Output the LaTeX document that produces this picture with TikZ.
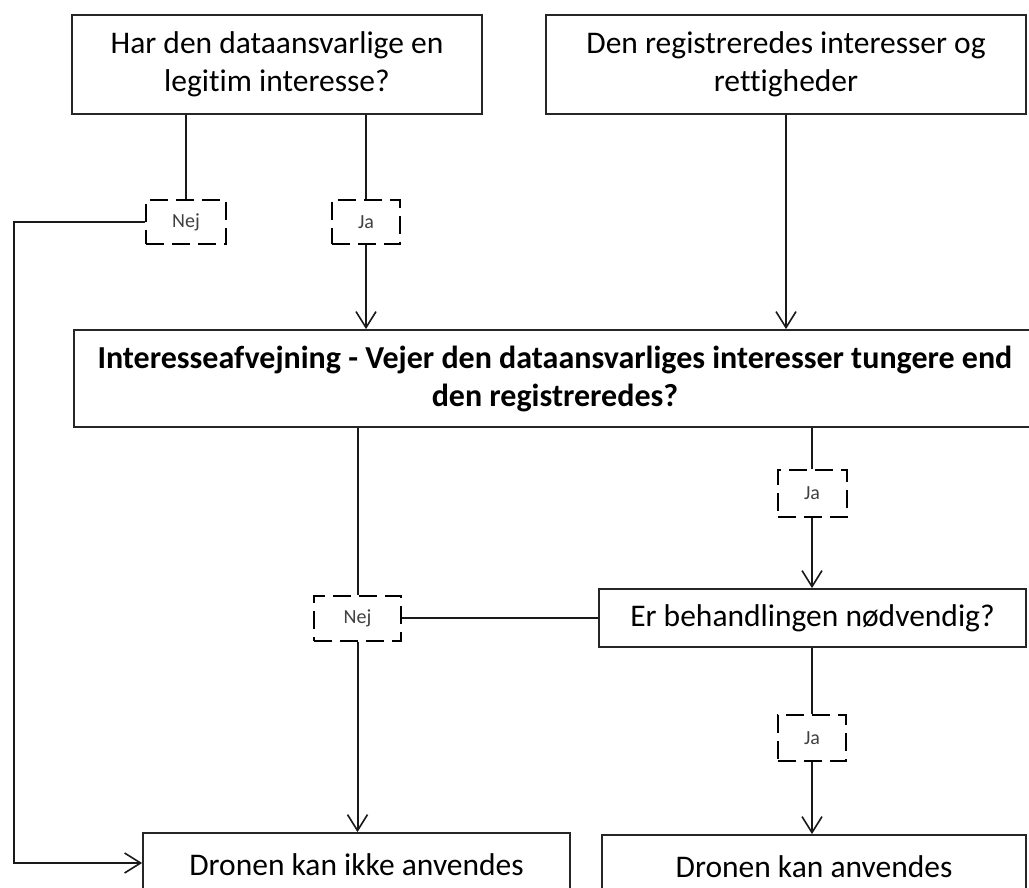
\documentclass[tikz,border=0pt]{standalone}
\usepackage{fontspec}
\setmainfont{Carlito}[Ligatures=NoCommon]
\usetikzlibrary{arrows.meta}
\begin{document}
\begin{tikzpicture}[x=1pt,y=-1pt,
  box/.style={draw=black!85, line width=1.8pt, fill=white, inner sep=0pt, align=center, text=black},
  bigfont/.style={font=\fontsize{31.5}{38}\selectfont},
  lab/.style={draw=black, line width=2pt, dash pattern=on 18pt off 8pt, inner sep=0pt, font=\fontsize{20}{22}\selectfont, text=black!75},
  conn/.style={line width=2pt, draw=black!90},
  arr/.style={conn, -{Straight Barb[length=16pt,width=20pt,line width=1.6pt]}}]
\fill[white] (0,0) rectangle (1029,888);
\useasboundingbox (0,0) rectangle (1029,888);
\clip (0,0) rectangle (1029,888);

\node[box, bigfont, minimum width=410pt, minimum height=99pt] (q1) at (277,64.5) {Har den dataansvarlige en\\legitim interesse?};
\node[box, bigfont, minimum width=480pt, minimum height=99pt] (q2) at (786,64.5) {Den registreredes interesser og\\rettigheder};
\node[box, font=\fontsize{32}{38}\selectfont\bfseries, minimum width=962pt, minimum height=97pt] (big) at (555,378.5) {Interesseafvejning - Vejer den dataansvarliges interesser tungere end\\den registreredes?};
\node[box, bigfont, minimum width=427pt, minimum height=58pt] (er) at (812.5,618) {Er behandlingen nødvendig?};
\node[box, bigfont, minimum width=427pt, minimum height=64pt] (bl) at (356.5,865) {Dronen kan ikke anvendes};
\node[box, bigfont, minimum width=424pt, minimum height=64pt] (br) at (814,867) {Dronen kan anvendes};

\node[lab, minimum width=80pt, minimum height=44pt] (nej1) at (186,222) {Nej};
\node[lab, minimum width=68pt, minimum height=44pt] (ja1) at (366,222) {Ja};
\node[lab, minimum width=69pt, minimum height=47pt] (ja2) at (812,493.5) {Ja};
\node[lab, minimum width=87pt, minimum height=45pt] (nej2) at (357.5,618.5) {Nej};
\node[lab, minimum width=68pt, minimum height=46pt] (ja3) at (812,738) {Ja};

\coordinate (lc) at (14,863);

\draw[conn] (q1.south -| nej1) -- (nej1.north);
\draw[conn] (q1.south -| ja1) -- (ja1.north);
\draw[arr] (ja1.south) -- (ja1.south |- big.north);
\draw[arr] (q2.south) -- (q2.south |- big.north);
\draw[arr] (nej1.west) -| (lc) -- (lc -| bl.west);
\draw[conn] (big.south -| nej2) -- (nej2.north);
\draw[arr] (nej2.south) -- (nej2.south |- bl.north);
\draw[conn] (er.west) -- (er.west -| nej2.east);
\draw[conn] (big.south -| ja2) -- (ja2.north);
\draw[arr] (ja2.south) -- (ja2.south |- er.north);
\draw[conn] (er.south -| ja3) -- (ja3.north);
\draw[arr] (ja3.south) -- (ja3.south |- br.north);
\end{tikzpicture}
\end{document}
